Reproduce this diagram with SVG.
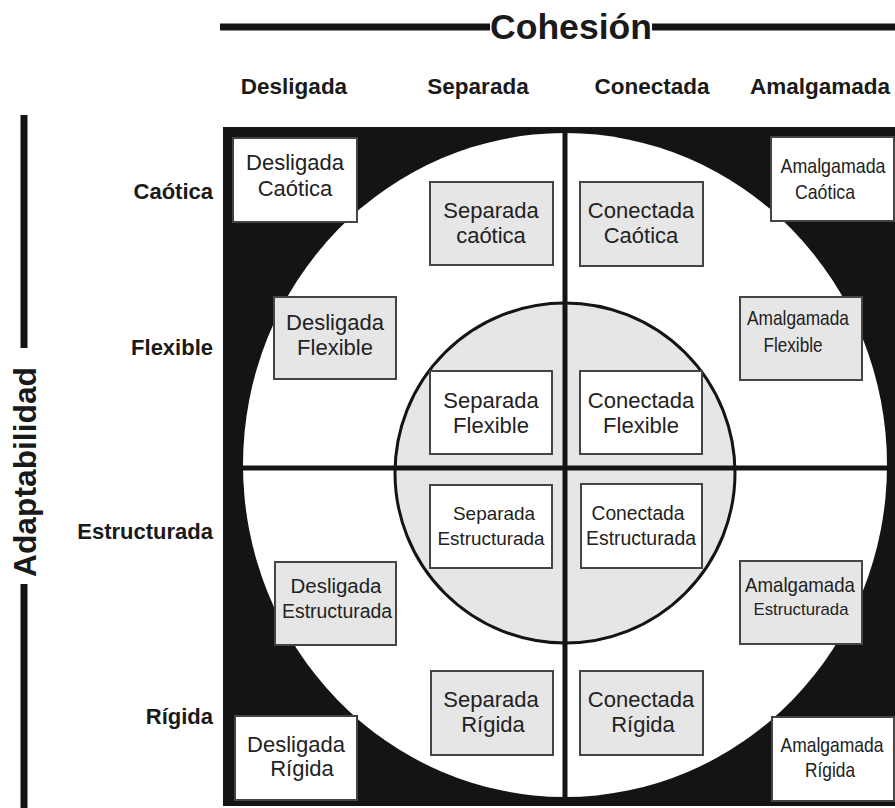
<svg xmlns="http://www.w3.org/2000/svg" width="895" height="808" viewBox="0 0 895 808">
<style>
.bg{fill:#fff}
.blk{fill:#141414}
.ring{fill:#fff}
.core{fill:#e6e6e6;stroke:#141414;stroke-width:3}
.div{stroke:#141414;stroke-width:5}
.axis{stroke:#141414;stroke-width:7}
.bw{fill:#fff;stroke:#444;stroke-width:2}
.bg2{fill:#e6e6e6;stroke:#444;stroke-width:2}
text{font-family:"Liberation Sans",Arial,sans-serif;fill:#222;text-anchor:middle}
.t{font-size:22px}
.s{font-size:21px}
.h{font-size:22.5px;font-weight:bold;fill:#1a1a1a}
.r{font-size:22px;font-weight:bold;fill:#1a1a1a;text-anchor:end}
.big{font-weight:bold;fill:#1a1a1a}
</style>
<rect class="bg" x="0" y="0" width="895" height="808"/>

<g id="axes">
  <line class="axis" x1="220" y1="27" x2="490" y2="27"/>
  <line class="axis" x1="652" y1="27" x2="895" y2="27"/>
  <text class="big" x="571" y="39" font-size="35" textLength="162" lengthAdjust="spacingAndGlyphs">Cohesión</text>
  <line class="axis" x1="24" y1="115" x2="24" y2="348"/>
  <line class="axis" x1="24" y1="584" x2="24" y2="808"/>
  <text class="big" transform="translate(36,472) rotate(-90)" font-size="31.5" textLength="210" lengthAdjust="spacingAndGlyphs">Adaptabilidad</text>
</g>

<g id="column-labels">
  <text class="h" x="294" y="94">Desligada</text>
  <text class="h" x="478" y="94">Separada</text>
  <text class="h" x="652" y="94">Conectada</text>
  <text class="h" x="820" y="94">Amalgamada</text>
</g>

<g id="row-labels">
  <text class="r" x="213" y="199">Caótica</text>
  <text class="r" x="213" y="355">Flexible</text>
  <text class="r" x="213" y="539">Estructurada</text>
  <text class="r" x="213" y="724">Rígida</text>
</g>

<g id="background">
  <rect class="blk" x="223" y="127" width="672" height="679"/>
  <ellipse class="ring" cx="565" cy="465" rx="322" ry="332"/>
  <circle class="core" cx="565" cy="473" r="170"/>
</g>

<g id="dividers">
  <line class="div" x1="565" y1="127" x2="565" y2="806"/>
  <line class="div" x1="223" y1="468" x2="895" y2="468"/>
</g>

<g id="desligada-caotica">
  <rect class="bw" x="233" y="138" width="124" height="84"/>
  <text class="t" x="295" y="170">Desligada</text>
  <text class="t" x="295" y="196">Caótica</text>
</g>
<g id="separada-caotica">
  <rect class="bg2" x="430" y="182" width="123" height="83"/>
  <text class="t" x="491" y="218">Separada</text>
  <text class="t" x="491" y="243">caótica</text>
</g>
<g id="conectada-caotica">
  <rect class="bg2" x="580" y="182" width="123" height="84"/>
  <text class="t" x="641" y="218">Conectada</text>
  <text class="t" x="641" y="243">Caótica</text>
</g>
<g id="amalgamada-caotica">
  <rect class="bw" x="771" y="137" width="123" height="84"/>
  <text class="s" x="833" y="173" textLength="105" lengthAdjust="spacingAndGlyphs">Amalgamada</text>
  <text class="s" x="825" y="199" textLength="60" lengthAdjust="spacingAndGlyphs">Caótica</text>
</g>

<g id="desligada-flexible">
  <rect class="bg2" x="274" y="297" width="122" height="82"/>
  <text class="t" x="335" y="330">Desligada</text>
  <text class="t" x="335" y="355">Flexible</text>
</g>
<g id="separada-flexible">
  <rect class="bw" x="430" y="371" width="122" height="83"/>
  <text class="t" x="491" y="408">Separada</text>
  <text class="t" x="491" y="433">Flexible</text>
</g>
<g id="conectada-flexible">
  <rect class="bw" x="580" y="371" width="122" height="83"/>
  <text class="t" x="641" y="408">Conectada</text>
  <text class="t" x="641" y="433">Flexible</text>
</g>
<g id="amalgamada-flexible">
  <rect class="bg2" x="740" y="297" width="122" height="83"/>
  <text class="s" x="798" y="325" textLength="102" lengthAdjust="spacingAndGlyphs">Amalgamada</text>
  <text class="s" x="793" y="352" textLength="59" lengthAdjust="spacingAndGlyphs">Flexible</text>
</g>

<g id="desligada-estructurada">
  <rect class="bg2" x="275" y="562" width="121" height="83"/>
  <text x="336" y="593" font-size="20" textLength="91" lengthAdjust="spacingAndGlyphs">Desligada</text>
  <text x="337" y="618" font-size="20" textLength="110" lengthAdjust="spacingAndGlyphs">Estructurada</text>
</g>
<g id="separada-estructurada">
  <rect class="bw" x="430" y="485" width="122" height="83"/>
  <text x="494" y="520" font-size="19" textLength="82" lengthAdjust="spacingAndGlyphs">Separada</text>
  <text x="491" y="545" font-size="19" textLength="107" lengthAdjust="spacingAndGlyphs">Estructurada</text>
</g>
<g id="conectada-estructurada">
  <rect class="bw" x="581" y="484" width="121" height="84"/>
  <text x="638" y="520" font-size="19.5" textLength="93" lengthAdjust="spacingAndGlyphs">Conectada</text>
  <text x="641" y="545" font-size="19.5" textLength="110" lengthAdjust="spacingAndGlyphs">Estructurada</text>
</g>
<g id="amalgamada-estructurada">
  <rect class="bg2" x="740" y="561" width="122" height="83"/>
  <text class="s" x="800" y="592" textLength="110" lengthAdjust="spacingAndGlyphs">Amalgamada</text>
  <text x="801" y="615" font-size="17" textLength="95" lengthAdjust="spacingAndGlyphs">Estructurada</text>
</g>

<g id="desligada-rigida">
  <rect class="bw" x="235" y="716" width="122" height="84"/>
  <text class="t" x="296" y="752">Desligada</text>
  <text class="t" x="302" y="776">Rígida</text>
</g>
<g id="separada-rigida">
  <rect class="bg2" x="431" y="671" width="122" height="84"/>
  <text class="t" x="491" y="707">Separada</text>
  <text class="t" x="493" y="732">Rígida</text>
</g>
<g id="conectada-rigida">
  <rect class="bg2" x="580" y="671" width="123" height="84"/>
  <text class="t" x="641" y="707">Conectada</text>
  <text class="t" x="643" y="732">Rígida</text>
</g>
<g id="amalgamada-rigida">
  <rect class="bw" x="772" y="717" width="122" height="84"/>
  <text class="s" x="832" y="752" textLength="103" lengthAdjust="spacingAndGlyphs">Amalgamada</text>
  <text class="s" x="830" y="777" textLength="50" lengthAdjust="spacingAndGlyphs">Rígida</text>
</g>
</svg>
